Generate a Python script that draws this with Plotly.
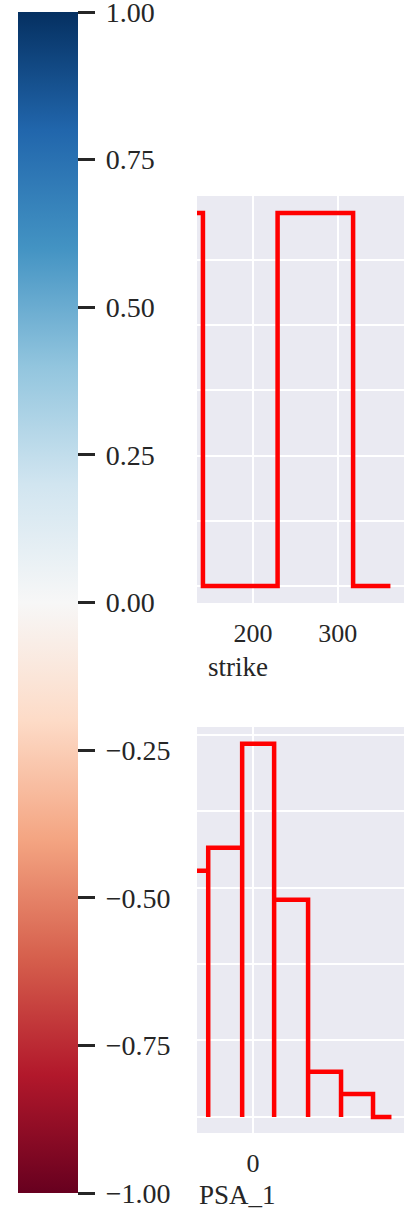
import plotly.graph_objects as go

W, H = 411, 1211

# colour scale for the colorbar (ColorBrewer RdBu, low -> high)
rdbu = ['#67001f', '#b2182b', '#d6604d', '#f4a582', '#fddbc7', '#f7f7f7',
        '#d1e5f0', '#92c5de', '#4393c3', '#2166ac', '#053061']
cbar_ticks = [-1.0, -0.75, -0.5, -0.25, 0.0, 0.25, 0.5, 0.75, 1.0]

# top panel: "strike"
strike_edges = [130, 141, 229, 318, 362]
strike_values = [5.72, 0, 5.72, 0]

# bottom panel: "PSA_1"
psa_edges = [-1.75, -1.36, -0.33, 0.64, 1.67, 2.67, 3.64, 4.2]
psa_values = [3.22, 3.52, 4.88, 2.84, 0.59, 0.30, 0]

FONT = 'Liberation Serif'
TXT = '#262626'
BG = '#EAEAF2'


def step_path(edges, values):
    # each bin drawn as a top edge, then a drop down to zero at its right end
    xs, ys = [], []
    for i, v in enumerate(values):
        xs += [edges[i], edges[i + 1], edges[i + 1]]
        ys += [v, v, 0]
    return xs, ys


def px_x(p):
    return p / W


def px_y(p):
    return 1 - p / H


fig = go.Figure()

sx, sy = step_path(strike_edges, strike_values)
fig.add_trace(go.Scatter(x=sx, y=sy, mode='lines', line=dict(color='red', width=4.5),
                         xaxis='x', yaxis='y', hoverinfo='skip'))

bx, by = step_path(psa_edges, psa_values)
fig.add_trace(go.Scatter(x=bx, y=by, mode='lines', line=dict(color='red', width=4.5),
                         xaxis='x2', yaxis='y2', hoverinfo='skip'))

# thin space in front pushes the labels a little off the tick marks
cbar_text = ['\u2009' + f'{v:.2f}'.replace('-', '\u2212') for v in cbar_ticks]

# dummy trace carrying the colorbar
fig.add_trace(go.Scatter(
    x=[250], y=[2], mode='markers', xaxis='x', yaxis='y', hoverinfo='skip',
    marker=dict(color=[0], cmin=-1, cmax=1, opacity=0, size=1,
                colorscale=[[i / (len(rdbu) - 1), c] for i, c in enumerate(rdbu)],
                showscale=True,
                colorbar=dict(
                    x=px_x(18), xanchor='left', xpad=0,
                    y=px_y(12), yanchor='top', ypad=0,
                    len=1181, lenmode='pixels', thickness=60,
                    outlinewidth=0,
                    tickvals=cbar_ticks, ticktext=cbar_text,
                    ticks='outside', ticklen=17, tickwidth=3, tickcolor=TXT,
                    ticklabeloverflow='allow',
                    tickfont=dict(family=FONT, size=28, color=TXT),
                ))))

axis_common = dict(showline=False, zeroline=False, gridcolor='white', gridwidth=1.6,
                   tickfont=dict(family=FONT, size=26, color=TXT), ticks='',
                   ticklabelstandoff=12)

fig.update_layout(
    width=W, height=H,
    margin=dict(l=0, r=0, t=0, b=0),
    paper_bgcolor='white', plot_bgcolor=BG,
    showlegend=False,
    xaxis=dict(domain=[px_x(197), px_x(404)], range=[134, 378], dtick=100,
               tick0=0, anchor='y', **axis_common),
    yaxis=dict(domain=[px_y(603), px_y(196)], range=[-0.26, 5.98], dtick=1,
               showticklabels=False, anchor='x', **axis_common),
    xaxis2=dict(domain=[px_x(197), px_x(404)], range=[-1.70, 4.58], dtick=5,
                tick0=0, anchor='y2', **axis_common),
    yaxis2=dict(domain=[px_y(1133), px_y(727)], range=[-0.21, 5.10], dtick=1,
                showticklabels=False, anchor='x2', **axis_common),
)

for label, xp, yp in [('strike', 238, 667), ('PSA_1', 238, 1195)]:
    fig.add_annotation(text=label, x=px_x(xp), y=px_y(yp), xref='paper', yref='paper',
                       xanchor='center', yanchor='middle', showarrow=False,
                       font=dict(family=FONT, size=27, color=TXT))

# drop the default page margin so the figure fills the window exactly
fig.write_html("out.html", config={'displayModeBar': False},
               post_script="document.body.style.margin='0';")
